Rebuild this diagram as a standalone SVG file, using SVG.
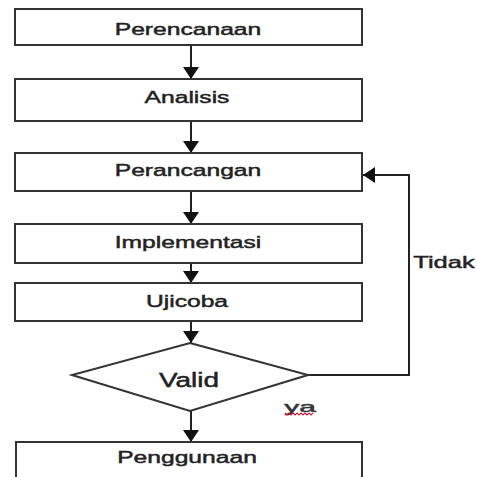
<svg xmlns="http://www.w3.org/2000/svg" width="477" height="477" viewBox="0 0 477 477">
<defs>
<style>
.box{fill:#fff;stroke:#333;stroke-width:2}
.lbl{font-family:"Liberation Sans",Arial,sans-serif;font-size:17px;fill:#222;stroke:#222;stroke-width:0.45;text-anchor:middle}
.con{fill:none;stroke:#222;stroke-width:2}
</style>
<marker id="ah" markerUnits="userSpaceOnUse" markerWidth="13" markerHeight="17" viewBox="0 -8.5 13 17" refX="12" refY="0" orient="auto">
<path d="M0,-8 L12,0 L0,8 z" fill="#111"/>
</marker>
</defs>
<rect width="477" height="477" fill="#fff"/>
<g id="connectors">
<line class="con" x1="191" y1="46" x2="191" y2="79" marker-end="url(#ah)"/>
<line class="con" x1="191" y1="122" x2="191" y2="153" marker-end="url(#ah)"/>
<line class="con" x1="191" y1="192" x2="191" y2="224" marker-end="url(#ah)"/>
<line class="con" x1="191" y1="264" x2="191" y2="283" marker-end="url(#ah)"/>
<line class="con" x1="191" y1="322" x2="191" y2="343" marker-end="url(#ah)"/>
<line class="con" x1="191" y1="411" x2="191" y2="442" marker-end="url(#ah)"/>
<polyline class="con" points="308,375 409,375 409,175 363,175" marker-end="url(#ah)"/>
<text class="lbl" transform="translate(444,268) scale(1.5,1)">Tidak</text>
<text class="lbl" transform="translate(300,412) scale(2,1)" style="font-size:15px;fill:#333;stroke:#333">ya</text>
<path d="M285,413 l2,2 l2,-2 l2,2 l2,-2 l2,2 l2,-2 l2,2 l2,-2 l2,2 l2,-2 l2,2 l2,-2 l2,2 l2,-2" fill="none" stroke="#c0203a" stroke-width="1.2"/>
</g>
<g id="perencanaan">
<rect class="box" x="15" y="9" width="347" height="36"/>
<text class="lbl" transform="translate(188,35) scale(1.45,1)">Perencanaan</text>
</g>
<g id="analisis">
<rect class="box" x="15" y="79" width="347" height="42"/>
<text class="lbl" transform="translate(187,103) scale(1.45,1)">Analisis</text>
</g>
<g id="perancangan">
<rect class="box" x="15" y="153" width="347" height="38"/>
<text class="lbl" transform="translate(188,176) scale(1.45,1)">Perancangan</text>
</g>
<g id="implementasi">
<rect class="box" x="15" y="224" width="347" height="39"/>
<text class="lbl" transform="translate(188,248) scale(1.45,1)">Implementasi</text>
</g>
<g id="ujicoba">
<rect class="box" x="15" y="283" width="347" height="38"/>
<text class="lbl" transform="translate(187,307) scale(1.45,1)">Ujicoba</text>
</g>
<g id="valid">
<polygon class="box" points="190,343 308,375 190,411 72,375"/>
<text class="lbl" transform="translate(189,387) scale(1.4,1)" style="font-size:20px">Valid</text>
</g>
<g id="penggunaan">
<rect class="box" x="16" y="442" width="346" height="50"/>
<text class="lbl" transform="translate(187,463) scale(1.45,1)">Penggunaan</text>
</g>
</svg>
